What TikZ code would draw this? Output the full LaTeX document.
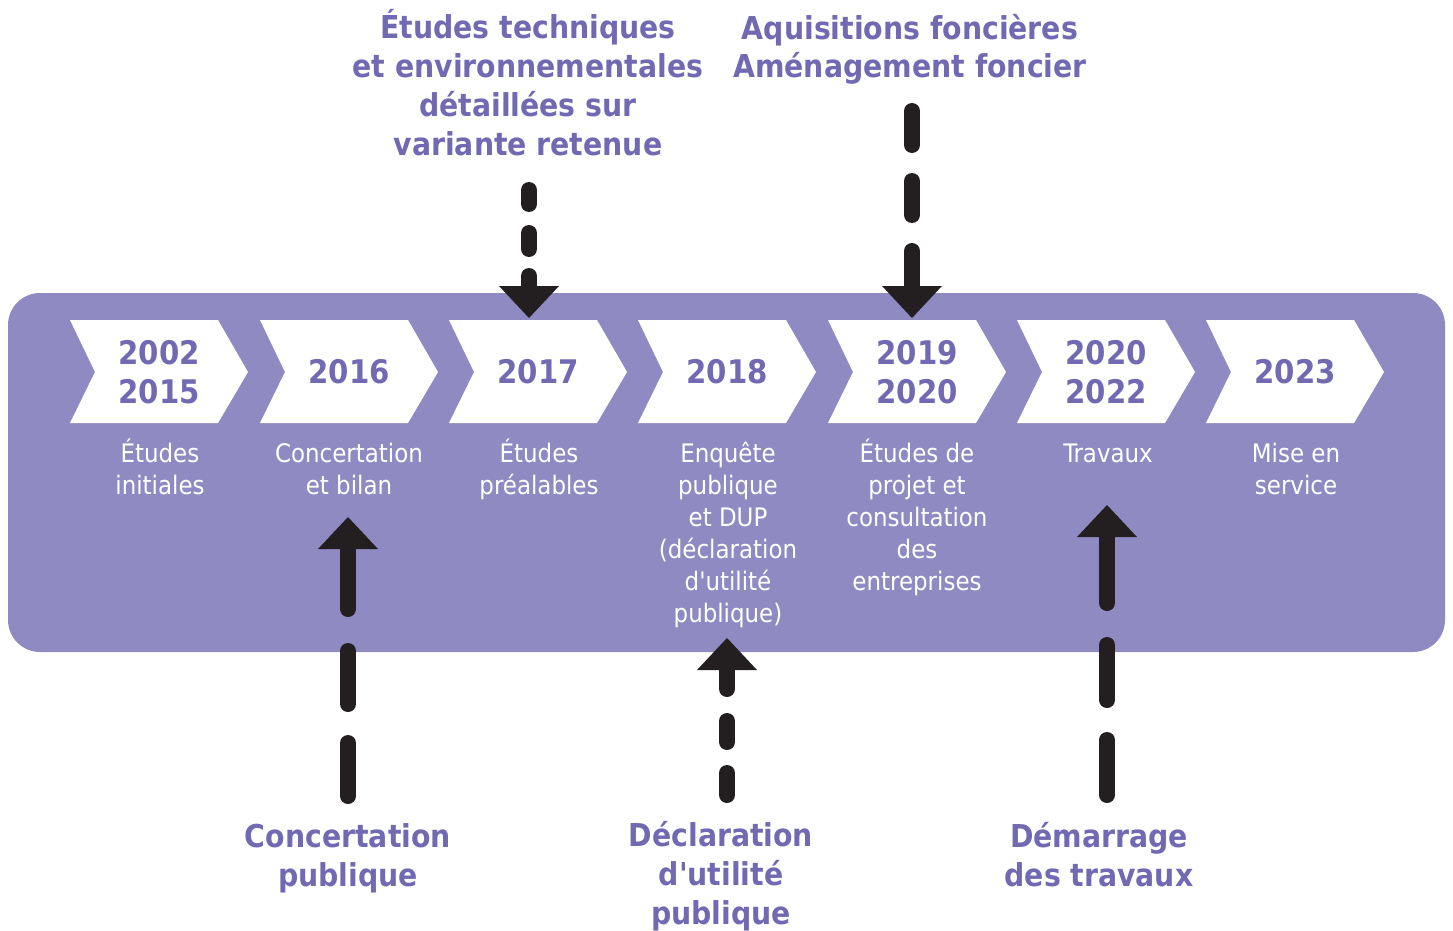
\documentclass[tikz,border=0pt]{standalone}
\usepackage{fontspec}
\setmainfont{DejaVu Sans Condensed}[Ligatures=TeXOff]
\usetikzlibrary{arrows.meta}
\definecolor{bandpurple}{RGB}{143,138,194}
\definecolor{textpurple}{RGB}{113,105,178}
\definecolor{arrowblack}{RGB}{35,31,32}
\begin{document}
\begin{tikzpicture}[x=1pt,y=-1pt,
  band/.style={fill=bandpurple},
  chevron/.style={fill=white},
  yeartext/.style={text=textpurple,font=\fontsize{32.5}{39}\selectfont\bfseries,align=center,inner sep=0pt},
  desctext/.style={text=white,font=\fontsize{25.5}{32}\selectfont,align=center,anchor=base,inner sep=0pt},
  labeltext/.style={text=textpurple,font=\fontsize{31.5}{38.7}\selectfont\bfseries,align=center,anchor=base,inner sep=0pt},
  conn/.style={draw=arrowblack,line width=16pt,line cap=round,-{Triangle[width=60pt,length=32pt,line width=0pt]}}]
\useasboundingbox (0,0) rectangle (1453,931);
\fill[band, rounded corners=32pt] (8,293) rectangle (1445,652);
\foreach \x in {70,260,449,638,828,1017,1206}
  \fill[chevron] (\x,320) -- ++(148,0) -- ++(30,52) -- ++(-30,51) -- ++(-148,0) -- ++(25,-51) -- cycle;
% years
\node[yeartext] (y1) at (159,372) {2002\\2015};
\node[yeartext] (y2) at (349,372) {2016};
\node[yeartext] (y3) at (538,372) {2017};
\node[yeartext] (y4) at (727,372) {2018};
\node[yeartext] (y5) at (917,372) {2019\\2020};
\node[yeartext] (y6) at (1106,372) {2020\\2022};
\node[yeartext] (y7) at (1295,372) {2023};
% descriptions (anchor = baseline of the last line)
\node[desctext] (d1) at (160,494) {Études\\initiales};
\node[desctext] (d2) at (349,494) {Concertation\\et bilan};
\node[desctext] (d3) at (539,494) {Études\\préalables};
\node[desctext] (d4) at (728,622) {Enquête\\publique\\et DUP\\(déclaration\\d'utilité\\publique)};
\node[desctext] (d5) at (917,590) {Études de\\projet et\\consultation\\des\\entreprises};
\node[desctext] (d6) at (1108,462) {Travaux};
\node[desctext] (d7) at (1296,494) {Mise en\\service};
% labels (anchor = baseline of the last line)
\node[labeltext] (l1) at (528,155) {Études techniques\\et environnementales\\détaillées sur\\variante retenue};
\node[labeltext] (l2) at (910,78) {Aquisitions foncières\\Aménagement foncier};
\node[labeltext] (l3) at (348,886) {Concertation\\publique};
\node[labeltext] (l4) at (721,924) {Déclaration\\d'utilité\\publique};
\node[labeltext] (l5) at (1099,886) {Démarrage\\des travaux};
% connectors
\coordinate (a1s) at (529,190); \coordinate (a1e) at (529,318);
\coordinate (a2s) at (912,111); \coordinate (a2e) at (912,318);
\coordinate (b1s) at (348,796); \coordinate (b1e) at (348,517);
\coordinate (b2s) at (727,795); \coordinate (b2e) at (727,638);
\coordinate (b3s) at (1107,795); \coordinate (b3e) at (1107,505);
\draw[conn,dash pattern=on 14pt off 29pt on 16pt off 27pt on 400pt] (a1s) -- (a1e);
\draw[conn,dash pattern=on 34pt off 36pt on 34pt off 36pt on 400pt] (a2s) -- (a2e);
\draw[conn,dash pattern=on 53pt off 39pt on 53pt off 42pt on 400pt] (b1s) -- (b1e);
\draw[conn,dash pattern=on 22pt off 31pt on 21pt off 32pt on 400pt] (b2s) -- (b2e);
\draw[conn,dash pattern=on 55pt off 40pt on 55pt off 42pt on 400pt] (b3s) -- (b3e);
\end{tikzpicture}
\end{document}
